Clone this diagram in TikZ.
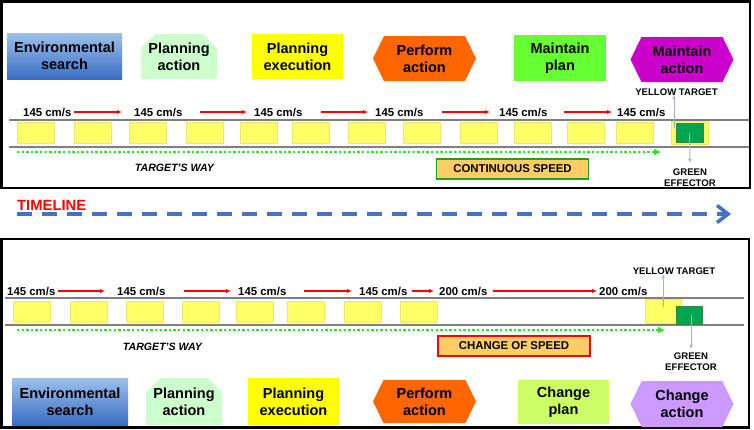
\documentclass[tikz,border=0pt]{standalone}
\usepackage{fontspec}
\setmainfont{Liberation Sans}
\usepackage{tikz}
\usetikzlibrary{arrows.meta,positioning,calc,shapes.symbols,shapes.misc}
\definecolor{EnvLight}{HTML}{9DC0EC}
\definecolor{EnvDark}{HTML}{3A6EC4}
\definecolor{PlanGreen}{HTML}{CCFFCC}
\definecolor{ExecYellow}{HTML}{FFFF00}
\definecolor{PerfOrange}{HTML}{FF6600}
\definecolor{MaintGreen}{HTML}{66FF33}
\definecolor{MaintMagenta}{HTML}{CC00CC}
\definecolor{ChangeLime}{HTML}{CCFF66}
\definecolor{ChangeLilac}{HTML}{CC99FF}
\definecolor{CellYellow}{HTML}{FFFF66}
\definecolor{CellEdge}{HTML}{F2E46A}
\definecolor{EffGreen}{HTML}{00A550}
\definecolor{EffEdge}{HTML}{2E8B3E}
\definecolor{WayGreen}{HTML}{1FEA1F}
\definecolor{SpeedOrange}{HTML}{FFCC66}
\definecolor{BoxGreen}{HTML}{22A022}
\definecolor{TimeBlue}{HTML}{4472C4}
\definecolor{PointerGray}{HTML}{9FB3CC}
\definecolor{TrackGray}{HTML}{7F7F7F}
\newcommand{\stagefont}{\fontsize{14.5}{16.7}\selectfont\bfseries}
\newcommand{\speedfont}{\fontsize{11.4}{13}\selectfont\bfseries}
\newcommand{\tagfont}{\fontsize{9.6}{11}\selectfont\bfseries}
\newcommand{\timefont}{\fontsize{14.8}{16}\selectfont\bfseries}

\begin{document}
\begin{tikzpicture}[x=1pt,y=-1pt,
    stage/.style={rectangle,minimum height=45pt,align=center,font=\stagefont,inner sep=0pt},
    snip/.style={stage,chamfered rectangle,chamfered rectangle corners={north west,north east},chamfered rectangle xsep=7pt,chamfered rectangle ysep=7pt},
    hex/.style={stage,signal,signal to=east and west,signal pointer angle=128,minimum width=103pt},
    speed/.style={font=\speedfont,inner sep=0pt,anchor=west},
    speedarrow/.style={-{Latex[length=5pt,width=4.5pt]},draw=red,line width=1.3pt},
    cell/.style={rectangle,draw=CellEdge,fill=CellYellow,line width=0.4pt,minimum width=37pt,minimum height=21pt,anchor=west,inner sep=0pt},
    effector/.style={rectangle,draw=EffEdge,fill=EffGreen,line width=0.8pt,inner sep=0pt},
    track/.style={draw=TrackGray,line width=1.1pt},
    wayarrow/.style={-{Latex[length=7pt,width=7pt]},draw=WayGreen,line width=2.6pt,dash pattern=on 2.4pt off 2.2pt},
    waylbl/.style={font=\fontsize{10.6}{12}\selectfont\bfseries\itshape,inner sep=0pt},
    tag/.style={font=\tagfont,inner sep=0pt,align=center},
    pointer/.style={-{Stealth[length=4pt,width=3.5pt]},draw=PointerGray,line width=0.9pt},
    speedbox/.style={rectangle,fill=SpeedOrange,line width=1.6pt,minimum width=152pt,minimum height=20pt,font=\speedfont,inner sep=0pt},
    panel/.style={draw=black,line width=2.4pt},
    timearrow/.style={-{Straight Barb[length=11pt,width=17pt]},draw=TimeBlue,line width=3.6pt,dash pattern=on 15pt off 10pt}
]
\useasboundingbox (0,0) rectangle (754,429);

% panels
\draw[panel] (1.5,1.5) rectangle (750,188);
\draw[panel] (1.5,239) rectangle (749,427.5);

% upper stages
\node[stage,top color=EnvLight,bottom color=EnvDark,minimum width=115pt,minimum height=46pt] (env1) at (64.5,56) {Environmental\\search};
\node[snip,fill=PlanGreen,minimum width=76pt] (pa1) at (179,56.5) {Planning\\action};
\node[stage,fill=ExecYellow,minimum width=91pt] (pe1) at (297.5,56.5) {Planning\\execution};
\node[hex,fill=PerfOrange] (perf1) at (424.5,58.5) {Perform\\action};
\node[stage,fill=MaintGreen,minimum width=92pt,minimum height=46pt] (mp1) at (560,58) {Maintain\\plan};
\node[hex,fill=MaintMagenta] (ma1) at (682,59.5) {Maintain\\action};

% upper speeds
\node[speed] (s1) at (23,112) {145 cm/s};
\node[speed] (s2) at (134,112) {145 cm/s};
\node[speed] (s3) at (254,112) {145 cm/s};
\node[speed] (s4) at (375,112) {145 cm/s};
\node[speed] (s5) at (499,112) {145 cm/s};
\node[speed] (s6) at (617,112) {145 cm/s};
\draw[speedarrow] ([xshift=2pt]s1.east) -- ([xshift=-12pt]s2.west);
\draw[speedarrow] ([xshift=17pt]s2.east) -- ([xshift=-7pt]s3.west);
\draw[speedarrow] ([xshift=18pt]s3.east) -- ([xshift=-7pt]s4.west);
\draw[speedarrow] ([xshift=18pt]s4.east) -- ([xshift=-9pt]s5.west);
\draw[speedarrow] ([xshift=16pt]s5.east) -- ([xshift=-5pt]s6.west);

% upper track
\draw[track] (9,120) -- (749,120);
\draw[track] (9,147) -- (749,147);
\foreach \x in {17,74,129,186,240,292,348,403,460,514,567,616}
  \node[cell] (ca\x) at (\x,132.5) {};
\node[cell,minimum height=23pt] (yt1) at (671,132.5) {};
\node[effector,minimum width=27pt,minimum height=19pt] (ge1) at (689.5,132.5) {};
\coordinate (way1s) at (17,152);
\coordinate (way1e) at (661,152);
\draw[wayarrow] (way1s) -- (way1e);
\node[waylbl] (way1) at (174.5,168) {TARGET'S WAY};
\node[speedbox,draw=BoxGreen] (cs) at (512.5,169) {CONTINUOUS SPEED};
\node[tag] (ytl1) at (676.5,92) {YELLOW TARGET};
\node[tag] (gel1) at (690,177.5) {GREEN\\EFFECTOR};
\draw[pointer] ([xshift=3pt,yshift=4.5pt]yt1.west) -- ([xshift=3pt]yt1.west |- ytl1.south);
\draw[pointer,shorten >=6pt] (ge1.center) -- (gel1.north);

% timeline
\node[font=\timefont,text=red,anchor=west,inner sep=0pt] (tl) at (17,205) {TIMELINE};
\coordinate (tls) at (17,214);
\coordinate (tle) at (731,214);
\draw[timearrow] (tls) -- (tle);

% lower speeds
\node[speed] (b1) at (7,291) {145 cm/s};
\node[speed] (b2) at (117,291) {145 cm/s};
\node[speed] (b3) at (238,291) {145 cm/s};
\node[speed] (b4) at (359,291) {145 cm/s};
\node[speed] (b5) at (439,291) {200 cm/s};
\node[speed] (b6) at (599,291) {200 cm/s};
\draw[speedarrow] ([xshift=2pt]b1.east) -- ([xshift=-12pt]b2.west);
\draw[speedarrow] ([xshift=18pt]b2.east) -- ([xshift=-7pt]b3.west);
\draw[speedarrow] ([xshift=17pt]b3.east) -- ([xshift=-7pt]b4.west);
\draw[speedarrow] ([xshift=4pt]b4.east) -- ([xshift=-5pt]b5.west);
\draw[speedarrow] ([xshift=5pt]b5.east) -- ([xshift=-2pt]b6.west);

% lower track
\draw[track] (5,298) -- (744,298);
\draw[track] (5,325) -- (744,325);
\foreach \x in {13,70,126,182,236,287,344,400}
  \node[cell] (cb\x) at (\x,311.5) {};
\node[cell,minimum width=36pt,minimum height=24pt] (yt2) at (645,311) {};
\node[effector,minimum width=26pt,minimum height=18pt] (ge2) at (689,315) {};
\coordinate (way2s) at (17,330);
\coordinate (way2e) at (665,330);
\draw[wayarrow] (way2s) -- (way2e);
\node[waylbl] (way2) at (162.5,347) {TARGET'S WAY};
\node[speedbox,draw=red] (chs) at (514,346) {CHANGE OF SPEED};
\node[tag] (ytl2) at (674,271) {YELLOW TARGET};
\node[tag] (gel2) at (691,361.5) {GREEN\\EFFECTOR};
\draw[pointer] ([yshift=4pt]yt2.center) -- (yt2.center |- ytl2.south);
\draw[pointer,shorten >=4pt] ([xshift=2pt]ge2.center) -- ([xshift=0pt]gel2.north);

% lower stages
\node[stage,top color=EnvLight,bottom color=EnvDark,minimum width=116pt,minimum height=47pt] (env2) at (70,401.5) {Environmental\\search};
\node[snip,fill=PlanGreen,minimum width=76pt,minimum height=47pt] (pa2) at (184,401.5) {Planning\\action};
\node[stage,fill=ExecYellow,minimum width=91pt,minimum height=47pt] (pe2) at (293.5,401.5) {Planning\\execution};
\node[hex,fill=PerfOrange,minimum height=43pt] (perf2) at (424.5,401.5) {Perform\\action};
\node[stage,fill=ChangeLime,minimum width=91pt,minimum height=44pt] (cp2) at (563.5,402) {Change\\plan};
\node[hex,fill=ChangeLilac,minimum height=46pt] (ca2) at (682,404) {Change\\action};
\end{tikzpicture}
\end{document}
